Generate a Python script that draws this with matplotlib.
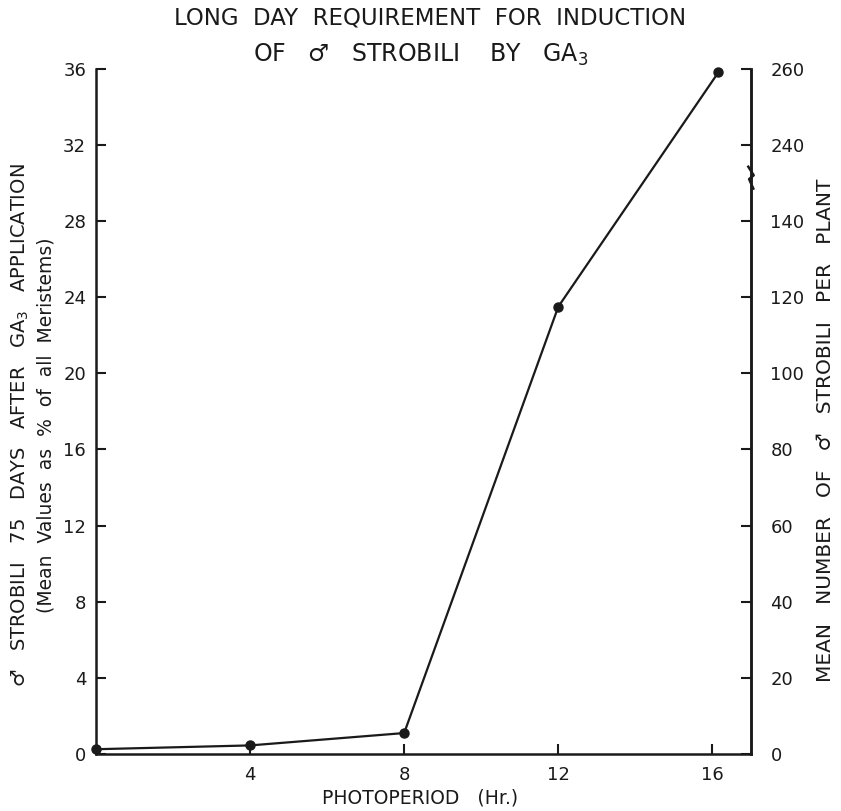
import matplotlib.pyplot as plt

# ── Data ────────────────────────────────────────────────────────────────────
PHOTOPERIOD = [0, 4, 8, 12, 16.15]          # hours
PCT_STROBILI = [0.25, 0.45, 1.1, 23.5, 35.8]  # % of all meristems

X_TICKS = [4, 8, 12, 16]
LEFT_TICKS = [0, 4, 8, 12, 16, 20, 24, 28, 32, 36]
RIGHT_LABELS = [0, 20, 40, 60, 80, 100, 120, 140, 240, 260]
BREAK_AT = 30.3   # position (left scale) of the break mark on the right axis

INK = "#1a1a1a"
plt.rcParams["font.family"] = ["DejaVu Sans"]


def right_to_left(v):
    """Right axis is broken: 0-140 -> 0-28, 240-260 -> 32-36."""
    return v / 5 if v <= 140 else (v - 80) / 5


fig = plt.figure(figsize=(8.41, 8.11), dpi=100)
ax = fig.add_axes([0.114, 0.0703, 0.779, 0.845])

ax.plot(PHOTOPERIOD, PCT_STROBILI, color=INK, lw=1.6, marker="o", ms=6.5,
        clip_on=False, zorder=5)

ax.set_xlim(0, 17)
ax.set_ylim(0, 36)

ax.spines["top"].set_visible(False)
for side in ["left", "bottom", "right"]:
    ax.spines[side].set_linewidth(1.8)
    ax.spines[side].set_color(INK)

ax.set_xticks(X_TICKS)
ax.set_xticklabels([str(t) for t in X_TICKS])
ax.set_yticks(LEFT_TICKS)
ax.set_yticklabels([str(t) for t in LEFT_TICKS])
ax.tick_params(direction="in", length=7, width=1.5, color=INK,
               labelsize=13, labelcolor=INK, pad=7)
ax.tick_params(axis="x", pad=9)

ax2 = ax.twinx()
ax2.set_ylim(0, 36)
ax2.set_yticks([right_to_left(v) for v in RIGHT_LABELS])
ax2.set_yticklabels([str(v) for v in RIGHT_LABELS])
ax2.tick_params(direction="in", length=7, width=1.5, color=INK,
                labelsize=13, labelcolor=INK, pad=14)
for side in ["top", "left", "bottom"]:
    ax2.spines[side].set_visible(False)
ax2.spines["right"].set_linewidth(1.8)
ax2.spines["right"].set_color(INK)

# break symbol on the right axis
ax.plot([16.93, 17.07, 16.95, 17.06], [BREAK_AT + 0.55, BREAK_AT + 0.1,
        BREAK_AT - 0.1, BREAK_AT - 0.6], color=INK, lw=1.8, clip_on=False,
        zorder=6)

fig.text(0.5, 0.016, "PHOTOPERIOD   (Hr.)", ha="center", va="center",
         fontsize=13.5, color=INK)

fig.text(0.024, 0.476, "\u2642   STROBILI   75   DAYS   AFTER   GA$_3$   APPLICATION",
         rotation=90, ha="center", va="center", fontsize=14, color=INK)
fig.text(0.055, 0.476, "(Mean  Values  as  %  of  all  Meristems)",
         rotation=90, ha="center", va="center", fontsize=13.5, color=INK)
fig.text(0.981, 0.47, "MEAN   NUMBER   OF   \u2642   STROBILI   PER   PLANT",
         rotation=90, ha="center", va="center", fontsize=14.5, color=INK)

fig.text(0.511, 0.978, "LONG  DAY  REQUIREMENT  FOR  INDUCTION",
         ha="center", va="center", fontsize=16.5, color=INK)
fig.text(0.5, 0.932, "OF   \u2642   STROBILI    BY   GA$_3$",
         ha="center", va="center", fontsize=17, color=INK)

fig.savefig("out.png", dpi=100, facecolor="white")
